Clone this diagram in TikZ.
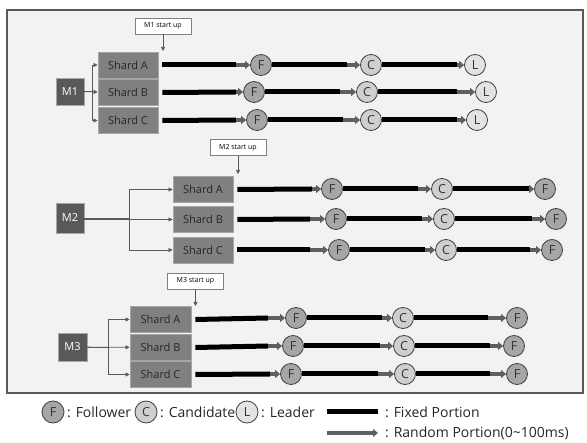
\documentclass[tikz,border=0pt]{standalone}
\usepackage{fontspec}
\setmainfont{Open Sans}
\usetikzlibrary{arrows.meta}
\definecolor{framebg}{HTML}{F2F2F2}
\definecolor{frameln}{HTML}{595959}
\definecolor{mbox}{HTML}{595959}
\definecolor{shardfill}{HTML}{808080}
\definecolor{shardln}{HTML}{A6A6A6}
\definecolor{folfill}{HTML}{A6A6A6}
\definecolor{candfill}{HTML}{CFCFCF}
\definecolor{leadfill}{HTML}{E3E3E3}
\definecolor{circln}{HTML}{404040}
\definecolor{randcol}{HTML}{5F5F5F}
\definecolor{linkcol}{HTML}{595959}
\tikzset{
  mnode/.style={draw=shardln,fill=mbox,text=white,line width=0.6pt,minimum width=28pt,minimum height=28pt,inner sep=0pt,font=\fontsize{11}{13}\selectfont},
  shard/.style={draw=shardln,fill=shardfill,text=black!85,line width=0.8pt,minimum width=60pt,minimum height=26pt,inner sep=0pt,font=\fontsize{11}{13}\selectfont},
  startbox/.style={draw=gray,fill=white,line width=0.6pt,minimum width=56pt,minimum height=16pt,inner sep=0pt,font=\fontsize{7}{8}\selectfont},
  rolecirc/.style={circle,draw=circln,line width=0.8pt,minimum size=21pt,inner sep=0pt,font=\fontsize{12.5}{14}\selectfont,text=black!80},
  fol/.style={rolecirc,fill=folfill},
  cand/.style={rolecirc,fill=candfill},
  lead/.style={rolecirc,fill=leadfill},
  last/.style={lead},
  fixed/.style={line width=5pt,black},
  rand/.style={line width=3.5pt,randcol,-{Triangle[length=5pt,width=8pt]}},
  link/.style={line width=0.7pt,linkcol,-{Triangle[length=4pt,width=4pt]}},
  legtext/.style={anchor=west,inner sep=0pt,font=\fontsize{14}{16}\selectfont,text=black!85},
}
\def\lastletter{L}
% #1 id, #2 y, #3 shard node, #4 split1, #5 circ1, #6 split2, #7 circ2, #8 split3, #9 circ3
\newcommand\lanerow[9]{%
  \node[fol] (#1a) at (#5,#2) {F};
  \node[cand] (#1b) at (#7,#2) {C};
  \node[last] (#1c) at (#9,#2) {\lastletter};
  \coordinate (#1p) at (#4,#2);
  \coordinate (#1q) at (#6,#2);
  \coordinate (#1r) at (#8,#2);
  \draw[fixed] ([xshift=4pt]#3.east) -- (#1p);
  \draw[rand] (#1p) -- (#1a);
  \draw[fixed] (#1a) -- (#1q);
  \draw[rand] (#1q) -- (#1b);
  \draw[fixed] (#1b) -- (#1r);
  \draw[rand] (#1r) -- (#1c);
}
\begin{document}
\begin{tikzpicture}[x=1pt,y=-1pt]
\useasboundingbox (0,0) rectangle (587,443);
\fill[white] (0,0) rectangle (587,443);
\draw[fill=framebg,draw=frameln,line width=1.2pt] (7,10) rectangle (583,393);

% ---------- Section 1 ----------
\node[startbox] (st1) at (163,26) {M1 start up};
\coordinate (t1) at (163,51);
\draw[link] (st1) -- (t1);
\node[mnode,minimum height=27pt] (m1) at (70,91.5) {M1};
\node[shard] (s1A) at (128,65) {Shard A};
\node[shard] (s1B) at (128,92.5) {Shard B};
\node[shard] (s1C) at (128,120.5) {Shard C};
\draw[link] (m1) -- (s1B);
\draw[link] (m1.east) -- ++(8,0) |- (s1A);
\draw[link] (m1.east) -- ++(8,0) |- (s1C);
\tikzset{last/.style={lead}}\def\lastletter{L}
\lanerow{r1A}{65}{s1A}{236}{261}{347}{371}{457}{475}
\lanerow{r1B}{92}{s1B}{236}{254}{340}{367}{457}{486}
\lanerow{r1C}{120}{s1C}{236}{257}{343}{371}{457}{477}

% ---------- Section 2 ----------
\node[startbox] (st2) at (238,147.5) {M2 start up};
\coordinate (t2) at (238,174);
\draw[link] (st2) -- (t2);
\node[mnode,minimum height=30pt] (m2) at (70,218) {M2};
\node[shard] (s2A) at (203,189.5) {Shard A};
\node[shard] (s2B) at (203,219.5) {Shard B};
\node[shard] (s2C) at (203,250) {Shard C};
\draw[link] (m2.east |- s2B) -- (s2B);
\draw[link] (m2.east) -- (129,218) |- (s2A);
\draw[link] (m2.east) -- (129,218) |- (s2C);
\tikzset{last/.style={fol}}\def\lastletter{F}
\lanerow{r2A}{189}{s2A}{312}{332}{418}{442}{530}{545}
\lanerow{r2B}{219}{s2B}{310}{336}{422}{444}{532}{556}
\lanerow{r2C}{250}{s2C}{310}{339}{425}{446}{530}{552}

% ---------- Section 3 ----------
\node[startbox] (st3) at (195.5,281) {M3 start up};
\coordinate (t3) at (195.5,306);
\draw[link] (st3) -- (t3);
\node[mnode,minimum width=29pt] (m3) at (72.5,347) {M3};
\node[shard,minimum width=61pt] (s3A) at (160.5,319.5) {Shard A};
\node[shard,minimum width=61pt] (s3B) at (160.5,347.5) {Shard B};
\node[shard,minimum width=61pt] (s3C) at (160.5,374.5) {Shard C};
\draw[link] (m3) -- (s3B);
\draw[link] (m3.east) -- ++(21,0) |- (s3A);
\draw[link] (m3.east) -- ++(21,0) |- (s3C);
\lanerow{r3A}{318}{s3A}{268}{296}{382}{403}{488}{517}
\lanerow{r3B}{346}{s3B}{268}{293}{380}{404}{490}{514}
\lanerow{r3C}{374}{s3C}{270}{291}{378}{405}{490}{517}

% ---------- Legend ----------
\node[fol,minimum size=22pt] (lgF) at (53,412) {F};
\node[legtext] (lgFt) at (67,412) {: Follower};
\node[cand,minimum size=22pt] (lgC) at (146,412) {C};
\node[legtext] (lgCt) at (160,412) {: Candidate};
\node[lead,minimum size=22pt] (lgL) at (247,412) {L};
\node[legtext] (lgLt) at (261,412) {: Leader};
\coordinate (lfa) at (327,412);
\coordinate (lfb) at (378,412);
\draw[fixed] (lfa) -- (lfb);
\node[legtext] (lgfix) at (385,412) {: Fixed Portion};
\coordinate (lra) at (327,433);
\coordinate (lrb) at (378,433);
\draw[rand] (lra) -- (lrb);
\node[legtext] (lgrand) at (385,433) {: Random Portion(0\textasciitilde 100ms)};
\end{tikzpicture}
\end{document}
